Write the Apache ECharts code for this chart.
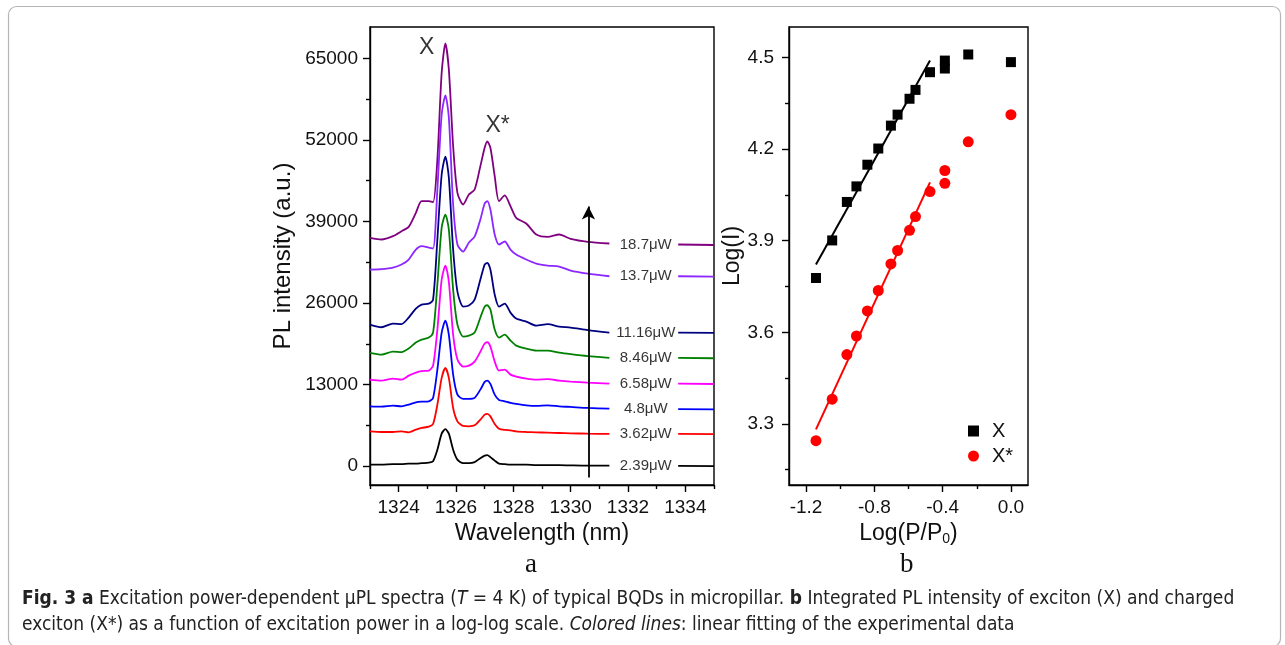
<!DOCTYPE html>
<html><head><meta charset="utf-8">
<script src="https://cdn.jsdelivr.net/npm/echarts@6/dist/echarts.min.js"></script>
<style>html,body{margin:0;padding:0;background:#fff}#c{width:1285px;height:645px}</style>
</head><body><div id="c"></div>
<script>
// ---------- Panel a: spectra ----------
const wavelength = [1323.0,1323.4,1323.8,1324.1,1324.35,1324.6,1324.8,1325.05,1325.2,1325.35,1325.5,1325.63,1325.75,1325.9,1326.05,1326.25,1326.45,1326.65,1326.85,1327.0,1327.09,1327.2,1327.35,1327.5,1327.7,1327.9,1328.1,1328.45,1328.8,1329.2,1329.6,1330.0,1330.6,1331.35,1333.75,1335.0];
const powerLabels = ['18.7μW','13.7μW','11.16μW','8.46μW','6.58μW','4.8μW','3.62μW','2.39μW'];
const spec18_7 = [36400,36130,36660,37450,38150,40380,42240,42240,42080,48890,62710,67390,63240,51010,43570,41710,43300,44100,47820,50750,51760,50750,46230,42240,43150,41440,39580,38680,36930,36550,36930,36230,35750,35490,35330,35250];
const spec13_7 = [31340,31420,31660,32140,32940,34530,35060,34850,34690,44100,56060,59090,55590,41710,35330,34210,35650,36600,39320,41870,42240,40910,36920,35330,35810,34530,33730,32940,32300,31980,31820,31180,30700,30270,30270,30200];
const spec11_16 = [22570,22140,22730,22650,23690,25120,25760,25920,26560,36130,46490,49320,46020,34530,27830,25440,25600,26560,29750,32140,32410,31340,27350,25440,25920,24480,23530,23050,22410,22650,22250,22090,21690,21290,21290,21250];
const spec8_46 = [18060,17780,18260,18180,18740,19700,20180,20500,21290,28950,38040,40110,37720,28150,22570,20660,20810,21290,23690,25440,25650,24960,21770,20500,20970,20020,19220,18740,18420,18420,18100,17860,17550,17260,17260,17200];
const spec6_58 = [13800,13640,13960,13800,14430,14910,15150,15230,16030,21770,29750,31980,29430,20970,16990,15870,16030,16670,18260,19540,19750,19060,16670,15230,15390,14590,14280,13960,13800,13880,13640,13480,13320,13160,13160,13100];
const spec4_8 = [9540,9490,9650,9540,9810,10180,10290,10340,10880,15390,21290,23210,20970,14590,11400,10720,10720,10880,12200,13430,13640,13110,11400,10560,10340,10080,9920,9700,9600,9700,9540,9440,9280,9170,9100,9050];
const spec3_62 = [5550,5450,5450,5550,5390,5820,6090,6300,6730,9810,14070,15660,14070,9280,7150,6410,6360,6510,7420,8210,8330,7940,6730,5980,5770,5720,5550,5450,5390,5340,5290,5240,5180,5140,5140,5100];
const spec2_39 = [240,240,320,320,400,400,480,560,800,2630,5180,5900,5180,2630,1040,480,480,640,1280,1670,1750,1440,880,400,320,240,240,240,160,160,160,120,80,80,40,0];
const labelWavelength = 1332.62;   // power labels sit in the gap of each trace
const gapAfterIndex = 33;          // trace is interrupted between 1331.35 and 1333.75
const arrowWavelength = 1330.62;
const arrowRange = [-1800, 41400];
const peakNames = ['X', 'X*'];
const peakLabelPos = [[1324.98, 66700], [1327.45, 54200]];
const xTicksMajor = [1324,1326,1328,1330,1332,1334];
const xTicksMinor = [1323,1325,1327,1329,1331,1333,1335];
const yTicksMajor = [0,13000,26000,39000,52000,65000];
const yTicksMinor = [6500,19500,32500,45500,58500];

// ---------- Panel b: log-log ----------
const logP = [-1.142,-1.047,-0.961,-0.905,-0.841,-0.777,-0.703,-0.664,-0.594,-0.559,-0.474,-0.387,-0.387,-0.25,0.0];
const logI_X = [3.778,3.901,4.027,4.078,4.149,4.202,4.277,4.313,4.365,4.394,4.452,4.490,4.464,4.510,4.485];
const logI_Xstar = [3.245,3.381,3.527,3.588,3.670,3.737,3.824,3.868,3.934,3.979,4.061,4.130,4.088,4.224,4.313];
const fitX = [[-1.142,3.822],[-0.474,4.490]];
const fitXstar = [[-1.142,3.282],[-0.474,4.091]];
const bxTicksMajor = [-1.2,-0.8,-0.4,0.0];
const bxTicksMinor = [-1.0,-0.6,-0.2];
const byTicksMajor = [3.3,3.6,3.9,4.2,4.5];
const byTicksMinor = [3.15,3.45,3.75,4.05,4.35];

const spectra = [spec18_7, spec13_7, spec11_16, spec8_46, spec6_58, spec4_8, spec3_62, spec2_39];
const colors = ['#800080','#8c28ff','#000080','#008000','#ff00ff','#0000ff','#ff0000','#000000'];
const FONT = "'Liberation Sans', Arial, sans-serif";
const AX = {color:'#000', width:1.4};

function majorAxis(o){
  return Object.assign({
    type:'value', splitLine:{show:false},
    axisLine:{show:true, onZero:false, lineStyle:AX},
    axisTick:{show:true, length:7, lineStyle:AX, customValues:o.major},
    axisLabel:{show:true, customValues:o.major, fontFamily:FONT, fontSize:19, color:'#111', margin:o.margin, formatter:o.fmt},
    nameTextStyle:{fontFamily:FONT, fontSize:23, color:'#111'}
  }, o.extra);
}
function minorAxis(o){
  return Object.assign({
    type:'value', splitLine:{show:false},
    axisLine:{show:false, onZero:false},
    axisTick:{show:true, length:4, lineStyle:AX, customValues:o.minor},
    axisLabel:{show:false}
  }, o.extra);
}

const chart = echarts.init(document.getElementById('c'), null, {renderer:'canvas'});
const series = [];
spectra.forEach((arr, k) => {
  const data = wavelength.map((w,i)=>[w, arr[i]]);
  data.splice(gapAfterIndex+1, 0, [labelWavelength, '-']);
  series.push({
    type:'line', xAxisIndex:0, yAxisIndex:0, name:powerLabels[k],
    data: data, connectNulls:false,
    showSymbol:false, smooth:0.25, z:2,
    lineStyle:{color:colors[k], width:1.8},
    markLine: k===0 ? {
      silent:true, symbol:['none','arrow'], symbolSize:[10,13],
      lineStyle:{color:'#000', width:1.8, type:'solid'}, label:{show:false},
      data:[[{coord:[arrowWavelength, arrowRange[0]]},{coord:[arrowWavelength, arrowRange[1]]}]]
    } : undefined
  });
});
series.push({
  type:'scatter', xAxisIndex:0, yAxisIndex:0, z:6, symbolSize:1, silent:true,
  itemStyle:{color:'rgba(0,0,0,0)'},
  data: spectra.map((arr,k)=>({value:[labelWavelength, arr[gapAfterIndex+1]], name:powerLabels[k]})),
  label:{show:true, position:'inside', formatter:p=>p.name, fontFamily:FONT, fontSize:15, color:'#000'}
});
series.push({
  type:'scatter', xAxisIndex:0, yAxisIndex:0, z:6, symbolSize:1, silent:true,
  itemStyle:{color:'rgba(0,0,0,0)'},
  data: peakLabelPos.map((p,k)=>({value:p, name:peakNames[k]})),
  label:{show:true, position:'inside', formatter:p=>p.name, fontFamily:FONT, fontSize:23, color:'#000'}
});
// panel b
series.push({type:'line', name:'fitX', xAxisIndex:2, yAxisIndex:2, data:fitX, showSymbol:false, lineStyle:{color:'#000', width:2}, z:3});
series.push({type:'line', name:'fitXstar', xAxisIndex:2, yAxisIndex:2, data:fitXstar, showSymbol:false, lineStyle:{color:'#ff0000', width:2}, z:3});
series.push({type:'scatter', name:'X', xAxisIndex:2, yAxisIndex:2, symbol:'rect', symbolSize:10, itemStyle:{color:'#000', opacity:1}, data:logP.map((x,i)=>[x, logI_X[i]]), z:4});
series.push({type:'scatter', name:'X*', xAxisIndex:2, yAxisIndex:2, symbol:'circle', symbolSize:11, itemStyle:{color:'#ff0000', opacity:1}, data:logP.map((x,i)=>[x, logI_Xstar[i]]), z:4});

const CAPF = "'Liberation Sans Narrow', 'DejaVu Sans Condensed', sans-serif";
const option = {
  animation:false,
  backgroundColor:'#fff',
  textStyle:{fontFamily:FONT},
  grid:[
    {left:370, top:27, width:344, height:458, show:true, borderColor:'#000', borderWidth:1.4, backgroundColor:'rgba(0,0,0,0)'},
    {left:789, top:27, width:239, height:458, show:true, borderColor:'#000', borderWidth:1.4, backgroundColor:'rgba(0,0,0,0)'}
  ],
  xAxis:[
    majorAxis({major:xTicksMajor, margin:13, fmt:v=>String(v), extra:{gridIndex:0, position:'bottom', min:1323, max:1335, name:'Wavelength (nm)', nameLocation:'middle', nameGap:37}}),
    minorAxis({minor:xTicksMinor, extra:{gridIndex:0, position:'bottom', min:1323, max:1335}}),
    majorAxis({major:bxTicksMajor, margin:13, fmt:v=>v.toFixed(1), extra:{gridIndex:1, position:'bottom', min:-1.3, max:0.1, name:'Log(P/P{s|0})', nameLocation:'middle', nameGap:32}}),
    minorAxis({minor:bxTicksMinor, extra:{gridIndex:1, position:'bottom', min:-1.3, max:0.1}})
  ],
  yAxis:[
    majorAxis({major:yTicksMajor, margin:12, fmt:v=>String(v), extra:{gridIndex:0, position:'left', min:-3000, max:70000, name:'PL intensity (a.u.)', nameLocation:'middle', nameGap:75}}),
    minorAxis({minor:yTicksMinor, extra:{gridIndex:0, position:'left', min:-3000, max:70000}}),
    majorAxis({major:byTicksMajor, margin:15, fmt:v=>v.toFixed(1), extra:{gridIndex:1, position:'left', min:3.1, max:4.6, name:'Log(I)', nameLocation:'middle', nameGap:45}}),
    minorAxis({minor:byTicksMinor, extra:{gridIndex:1, position:'left', min:3.1, max:4.6}})
  ],
  legend:{
    data:[{name:'X', icon:'rect'},{name:'X*', icon:'circle'}],
    orient:'vertical', left:963, top:416, itemWidth:11, itemHeight:11, itemGap:5,
    textStyle:{fontFamily:FONT, fontSize:20, color:'#111', padding:[0,0,0,8]},
    selectedMode:false
  },
  graphic:[
    {type:'rect', left:6, top:4, shape:{width:1272, height:640, r:8}, style:{fill:'none', stroke:'#b5b5b5', lineWidth:1.2}, silent:true},
    {type:'text', left:525, top:551, style:{text:'a', font:"27px 'Liberation Serif', serif", fill:'#111'}},
    {type:'text', left:900, top:551, style:{text:'b', font:"27px 'Liberation Serif', serif", fill:'#111'}},
    {type:'text', left:22, top:590, style:{
      text:'{b|Fig. 3 a} Excitation power-dependent μPL spectra ({i|T} = 4 K) of typical BQDs in micropillar. {b|b} Integrated PL intensity of exciton (X) and charged',
      font:"19px " + CAPF, fill:'#222',
      rich:{b:{fontWeight:'bold', fontFamily:CAPF, fontSize:19, fill:'#222'}, i:{fontStyle:'italic', fontFamily:CAPF, fontSize:19, fill:'#222'}}
    }},
    {type:'text', left:22, top:616, style:{
      text:'exciton (X*) as a function of excitation power in a log-log scale. {i|Colored lines}: linear fitting of the experimental data',
      font:"19px " + CAPF, fill:'#222',
      rich:{i:{fontStyle:'italic', fontFamily:CAPF, fontSize:19, fill:'#222'}}
    }}
  ],
  series: series
};
option.yAxis[0].nameTextStyle.fontSize = 24;
option.xAxis[2].nameTextStyle.rich = {s:{fontFamily:FONT, fontSize:14, verticalAlign:'bottom', padding:[12,0,0,0], color:'#111'}};
chart.setOption(option);
</script>
</body></html>
